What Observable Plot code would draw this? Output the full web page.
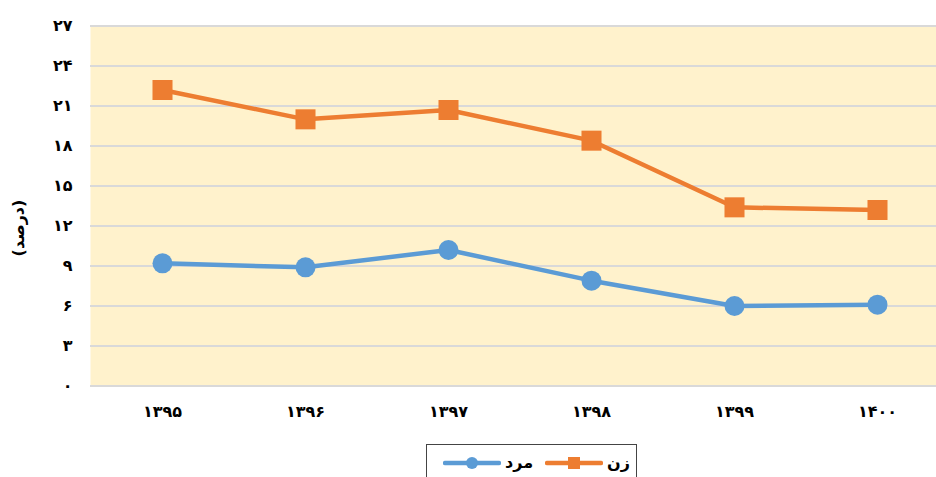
<!DOCTYPE html>
<html>
<head>
<meta charset="utf-8">
<script src="https://cdn.jsdelivr.net/npm/d3@7"></script>
<script src="https://cdn.jsdelivr.net/npm/@observablehq/plot@0.6"></script>
<style>
  html, body { margin: 0; padding: 0; background: #fff; overflow: hidden; width: 936px; height: 477px; }
  #chart { position: absolute; left: 0; top: 0; width: 949px; }
  #chart svg { max-width: none !important; }
  #legend { position: absolute; left: 426px; top: 444px; width: 209px; height: 40px; border: 1px solid #444; background: #fff;
    font-family: "DejaVu Sans", sans-serif; font-weight: bold; font-size: 16px; color: #000; }
  .item { position: absolute; top: 8px; display: flex; align-items: center; }
  .item span { line-height: 20px; }
</style>
</head>
<body>
<div id="chart"></div>
<div id="legend"></div>
<script>
const years = ["1395", "1396", "1397", "1398", "1399", "1400"];
const yearLabels = ["۱۳۹۵", "۱۳۹۶", "۱۳۹۷", "۱۳۹۸", "۱۳۹۹", "۱۴۰۰"];
const seriesNames = ["مرد", "زن"];
const men = [9.2, 8.9, 10.2, 7.9, 6.0, 6.1];
const women = [22.2, 20.0, 20.7, 18.4, 13.4, 13.2];
const yTicks = [0, 3, 6, 9, 12, 15, 18, 21, 24, 27];
const yLabel = "(درصد)";

const colors = {"مرد": "#5B9BD5", "زن": "#ED7D31"};
const persianDigits = "۰۱۲۳۴۵۶۷۸۹";
const toFa = v => String(v).replace(/[0-9]/g, d => persianDigits[+d]);

const data = [];
years.forEach((y, i) => {
  data.push({year: y, series: seriesNames[0], value: men[i]});
  data.push({year: y, series: seriesNames[1], value: women[i]});
});
const menData = data.filter(d => d.series === seriesNames[0]);
const womenData = data.filter(d => d.series === seriesNames[1]);

const chart = Plot.plot({
  width: 949,
  height: 440,
  marginLeft: 90,
  marginRight: 0,
  marginTop: 25.5,
  marginBottom: 54.5,
  style: {fontFamily: "DejaVu Sans, sans-serif", fontWeight: "bold", fontSize: "16px", color: "#000", background: "transparent", maxWidth: "none"},
  x: {type: "point", domain: years, padding: 0.5},
  y: {domain: [0, 27], ticks: yTicks},
  marks: [
    Plot.frame({fill: "#FFF2CC", stroke: null}),
    Plot.gridY(yTicks, {stroke: "#d9d9d9", strokeOpacity: 1, strokeWidth: 2}),
    Plot.axisY(yTicks, {tickSize: 0, tickPadding: 18, tickFormat: toFa, label: null, fontSize: 16}),
    Plot.axisX(years, {tickSize: 0, tickPadding: 20, tickFormat: (d) => yearLabels[years.indexOf(d)], label: null, fontSize: 16}),
    Plot.text([yLabel], {frameAnchor: "left", textAnchor: "middle", dx: -72, dy: 22, rotate: -90, fontSize: 16, fontWeight: "bold"}),
    Plot.line(menData, {x: "year", y: "value", stroke: colors[seriesNames[0]], strokeWidth: 4.5}),
    Plot.line(womenData, {x: "year", y: "value", stroke: colors[seriesNames[1]], strokeWidth: 4.5}),
    Plot.dot(menData, {x: "year", y: "value", fill: colors[seriesNames[0]], r: 10, symbol: "circle"}),
    Plot.dot(womenData, {x: "year", y: "value", fill: colors[seriesNames[1]], r: 11.3, symbol: "square"})
  ]
});
document.getElementById("chart").appendChild(chart);

// legend
const legend = document.getElementById("legend");
function swatch(color, symbol) {
  const ns = "http://www.w3.org/2000/svg";
  const svg = document.createElementNS(ns, "svg");
  svg.setAttribute("width", 58); svg.setAttribute("height", 20);
  const line = document.createElementNS(ns, "line");
  line.setAttribute("x1", 2); line.setAttribute("x2", 56); line.setAttribute("y1", 10); line.setAttribute("y2", 10);
  line.setAttribute("stroke", color); line.setAttribute("stroke-width", 4.5); line.setAttribute("stroke-linecap", "round");
  svg.appendChild(line);
  let m;
  if (symbol === "circle") {
    m = document.createElementNS(ns, "circle");
    m.setAttribute("cx", 29); m.setAttribute("cy", 10); m.setAttribute("r", 6);
  } else {
    m = document.createElementNS(ns, "rect");
    m.setAttribute("x", 23); m.setAttribute("y", 4); m.setAttribute("width", 12); m.setAttribute("height", 12);
  }
  m.setAttribute("fill", color);
  svg.appendChild(m);
  return svg;
}
const items = [
  {name: seriesNames[0], symbol: "circle", left: 16},
  {name: seriesNames[1], symbol: "square", left: 118}
];
items.forEach(it => {
  const div = document.createElement("div");
  div.className = "item";
  div.style.left = it.left + "px";
  div.appendChild(swatch(colors[it.name], it.symbol));
  const s = document.createElement("span");
  s.textContent = it.name;
  s.style.marginLeft = "4px";
  div.appendChild(s);
  legend.appendChild(div);
});
</script>
</body>
</html>
